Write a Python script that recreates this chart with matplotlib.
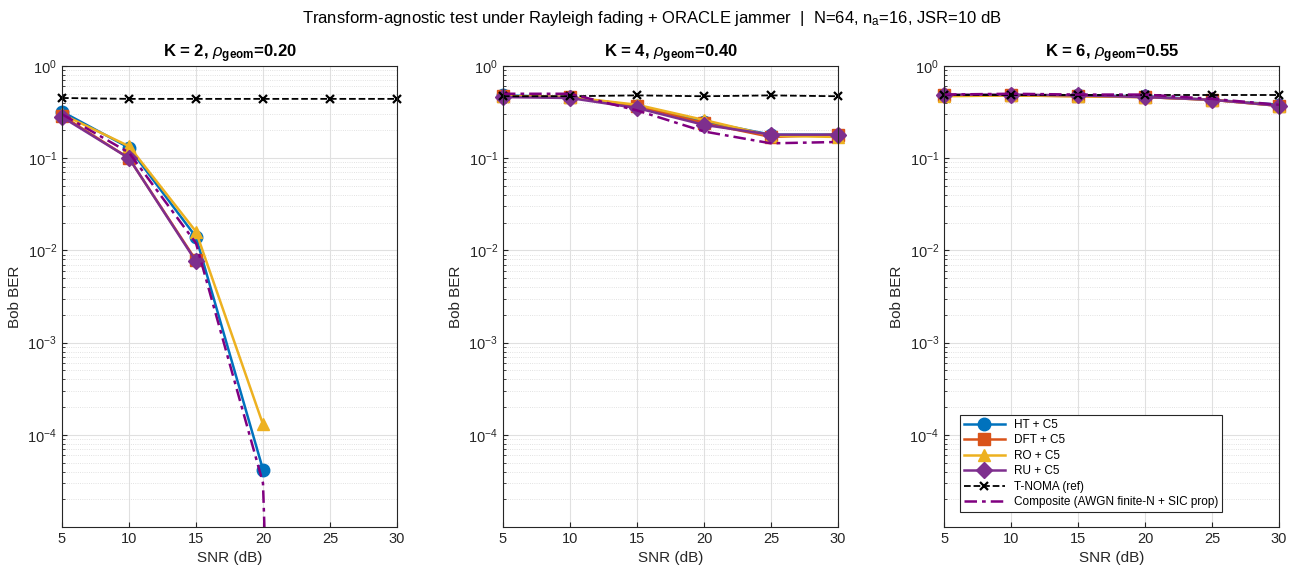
import numpy as np
import matplotlib.pyplot as plt

plt.rcParams['font.family'] = ['Liberation Sans', 'DejaVu Sans']
plt.rcParams['mathtext.fontset'] = 'custom'
plt.rcParams['mathtext.rm'] = 'Liberation Sans'
plt.rcParams['mathtext.it'] = 'Liberation Sans:italic'
plt.rcParams['mathtext.bf'] = 'Liberation Sans:bold'

snr = [5, 10, 15, 20, 25, 30]
snr_comp_k2 = [5, 10, 15, 20, 21]
nan = np.nan

k_vals = [2, 4, 6]
rho_geom = [0.20, 0.40, 0.55]

# Bob BER per panel (K = 2, 4, 6)
ber_ht = [
    [0.32, 0.13, 0.014, 4.2e-5, nan, nan],
    [0.48, 0.46, 0.37, 0.25, 0.18, 0.18],
    [0.48, 0.48, 0.48, 0.47, 0.43, 0.38],
]
ber_dft = [
    [0.29, 0.10, 0.0078, nan, nan, nan],
    [0.47, 0.46, 0.37, 0.24, 0.17, 0.18],
    [0.48, 0.48, 0.47, 0.46, 0.43, 0.37],
]
ber_ro = [
    [0.30, 0.135, 0.016, 1.3e-4, nan, nan],
    [0.47, 0.46, 0.38, 0.26, 0.175, 0.17],
    [0.47, 0.48, 0.47, 0.46, 0.43, 0.37],
]
ber_ru = [
    [0.28, 0.10, 0.0076, nan, nan, nan],
    [0.46, 0.45, 0.35, 0.23, 0.18, 0.18],
    [0.49, 0.49, 0.48, 0.46, 0.43, 0.37],
]
ber_tnoma = [
    [0.45, 0.44, 0.44, 0.44, 0.44, 0.44],
    [0.47, 0.47, 0.48, 0.47, 0.48, 0.47],
    [0.48, 0.48, 0.48, 0.48, 0.48, 0.48],
]
ber_comp = [
    [0.30, 0.115, 0.012, 3e-5, 1e-9],
    [0.50, 0.50, 0.33, 0.195, 0.145, 0.15],
    [0.49, 0.50, 0.49, 0.49, 0.44, 0.38],
]

c_ht = (0.0, 0.447, 0.741)
c_dft = (0.85, 0.325, 0.098)
c_ro = (0.929, 0.694, 0.125)
c_ru = (0.494, 0.184, 0.556)
c_comp = (0.5, 0.0, 0.5)

fig = plt.figure(figsize=(13.05, 5.78), dpi=100)
lefts = [0.0475, 0.3854, 0.7234]
for i in range(3):
    ax = fig.add_axes([lefts[i], 0.0882, 0.2567, 0.7976])
    ax.semilogy(snr, ber_ht[i], '-o', color=c_ht, lw=1.8, ms=9, label='HT + C5', clip_on=False)
    ax.semilogy(snr, ber_dft[i], '-s', color=c_dft, lw=1.8, ms=8, label='DFT + C5', clip_on=False)
    ax.semilogy(snr, ber_ro[i], '-^', color=c_ro, lw=1.8, ms=9, label='RO + C5', clip_on=False)
    ax.semilogy(snr, ber_ru[i], '-D', color=c_ru, lw=1.8, ms=8, label='RU + C5', clip_on=False)
    ax.semilogy(snr, ber_tnoma[i], '--x', color='k', lw=1.3, ms=6, mew=1.6,
                label='T-NOMA (ref)', clip_on=False)
    xs = snr_comp_k2 if i == 0 else snr
    ax.semilogy(xs, ber_comp[i], '-.', color=c_comp, lw=1.8, dashes=(5, 2, 1.5, 2),
                label='Composite (AWGN finite-N + SIC prop)')

    ax.set_xlim(5, 30)
    ax.set_ylim(1e-5, 1)
    ax.set_xticks(snr)
    ax.set_yticks([1e-4, 1e-3, 1e-2, 1e-1, 1e0])
    ax.grid(True, which='major', color='0.88', lw=0.8)
    ax.grid(True, which='minor', axis='y', color='0.85', lw=0.6, ls=':')
    ax.tick_params(which='both', direction='in', labelsize=10.5, colors='0.15')
    ax.tick_params(which='minor', length=2)
    for sp in ax.spines.values():
        sp.set_color('0.15')
        sp.set_linewidth(0.8)
    ax.set_xlabel('SNR (dB)', fontsize=11, color='0.15')
    ax.set_ylabel('Bob BER', fontsize=11, color='0.15')
    ax.set_title(r'K = %d, $\rho_{\mathbf{geom}}$=%.2f' % (k_vals[i], rho_geom[i]),
                 fontsize=12, fontweight='bold')
    if i == 2:
        leg = ax.legend(loc='lower left', bbox_to_anchor=(0.03, 0.02), fontsize=8.5,
                        fancybox=False, framealpha=1, edgecolor='0.15',
                        handlelength=3.5, borderpad=0.3, labelspacing=0.3)
        leg.get_frame().set_linewidth(0.8)

fig.suptitle(r'Transform-agnostic test under Rayleigh fading + ORACLE jammer  |  N=64, n$_\mathregular{a}$=16, JSR=10 dB',
             fontsize=12, y=0.985)
fig.savefig('out.png', dpi=100)
